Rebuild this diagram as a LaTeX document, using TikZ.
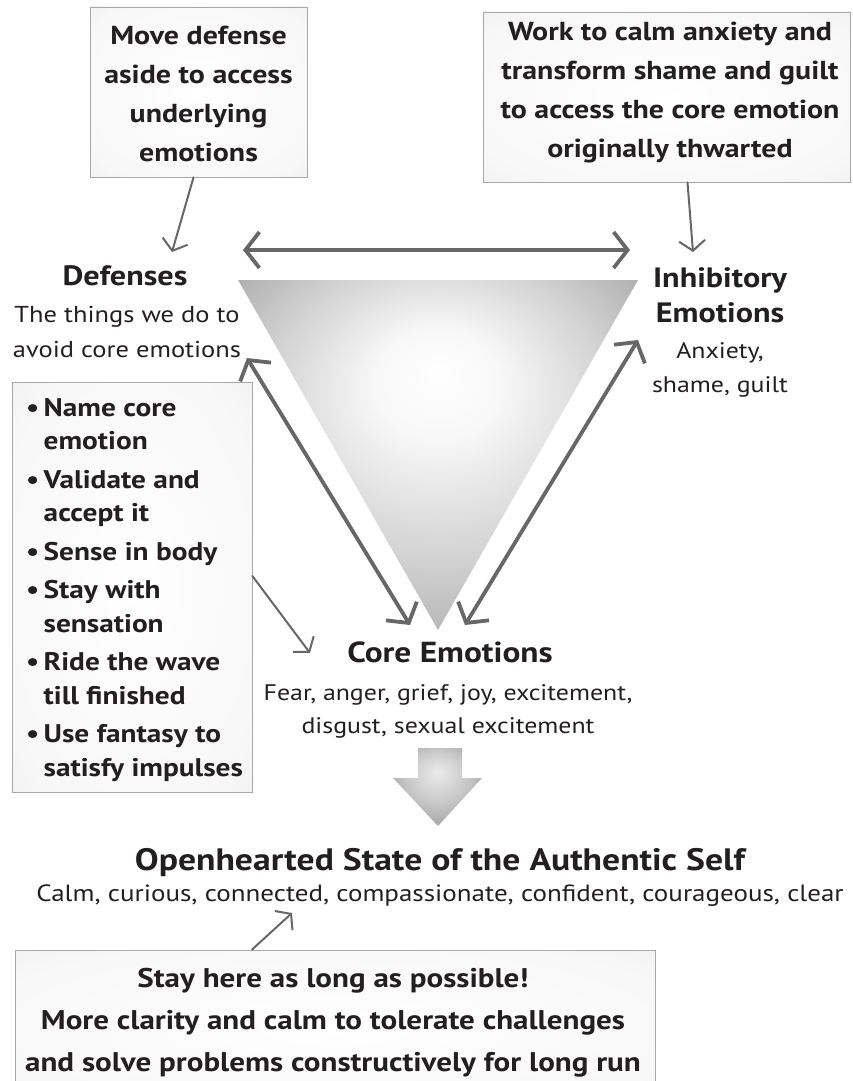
\documentclass[tikz,border=0pt]{standalone}
\usepackage{fontspec}
\setmainfont{PT Sans}[FakeStretch=1.15]
\usetikzlibrary{arrows.meta,calc}
\definecolor{ink}{HTML}{231F20}
\definecolor{arrowgray}{HTML}{676767}
\definecolor{boxedge}{HTML}{A8A8A8}
\pgfdeclareradialshading{trishade}{\pgfpoint{0bp}{12bp}}{color(0bp)=(white); color(8bp)=(white!97!black); color(22bp)=(white!82!black); color(35bp)=(white!66!black); color(50bp)=(white!56!black)}
\pgfdeclareradialshading{boxshade}{\pgfpoint{0bp}{0bp}}{color(0bp)=(white); color(30bp)=(white!97!black); color(44bp)=(white!92!black); color(50bp)=(white!80!black); color(70bp)=(white!70!black)}
\pgfdeclareradialshading{bigarrowshade}{\pgfpoint{0bp}{10bp}}{color(0bp)=(white!92!black); color(15bp)=(white!80!black); color(35bp)=(white!60!black); color(50bp)=(white!50!black)}
\tikzset{
  notebox/.style={draw=boxedge, line width=0.8pt, shading=boxshade, inner sep=0pt},
  boxtext/.style={font=\bfseries\fontsize{26}{39}\selectfont, text=ink, align=center, inner sep=0pt},
  ptr/.style={draw=arrowgray, line width=2pt, line cap=round, -{Straight Barb[length=10pt,width=26pt]}},
  dbl/.style={draw=arrowgray, line width=3.8pt, {Straight Barb[length=14pt,width=36pt]}-{Straight Barb[length=14pt,width=36pt]}},
  headtxt/.style={font=\bfseries\fontsize{28}{35}\selectfont, text=ink, align=center, inner sep=0pt},
  subtxt/.style={font=\fontsize{23}{35}\selectfont, text=ink, align=center, inner sep=0pt},
}
\begin{document}
\begin{tikzpicture}[x=1pt,y=-1pt]
\useasboundingbox (0,0) rectangle (852,1081);

% top boxes
\node[notebox, minimum width=217pt, minimum height=170pt] (tl) at (198.5,92) {};
\node[boxtext] (tltext) at (198.5,94) {Move defense\\aside to access\\underlying\\emotions};
\node[notebox, minimum width=367pt, minimum height=170pt] (tr) at (666.5,97) {};
\node[boxtext] (trtext) at (670,93) {Work to calm anxiety and\\transform shame and guilt\\to access the core emotion\\originally thwarted};

% triangle
\coordinate (tA) at (238,280);
\coordinate (tB) at (638,280);
\coordinate (tC) at (438,630);
\shade[shading=trishade] (tA) -- (tB) -- (tC) -- cycle;

% corner labels (base anchor of a multi-line node = last line)
\node[headtxt, anchor=base] (def) at (125,285) {Defenses};
\node[subtxt, anchor=base] (defsub) at (127,357) {The things we do to\\avoid core emotions};
\node[headtxt, anchor=base] (inh) at (720,322) {Inhibitory\\Emotions};
\node[subtxt, font=\fontsize{22.5}{34}\selectfont, anchor=base] (inhsub) at (720,392) {Anxiety,\\shame, guilt};
\node[headtxt, font=\bfseries\fontsize{29}{35}\selectfont, anchor=base] (core) at (450,662) {Core Emotions};
\node[subtxt, font=\fontsize{22.5}{33}\selectfont, anchor=base] (coresub) at (448,733) {Fear, anger, grief, joy, excitement,\\disgust, sexual excitement};

% bullet box
\node[notebox, minimum width=240pt, minimum height=410pt] (bl) at (132,587) {};
\node[font=\bfseries\fontsize{25.5}{33.5}\selectfont, text=ink, align=left, inner sep=0pt, anchor=north west] (bltext) at (26,398)
 {•\,Name core\\\phantom{•\,}emotion\\[5pt]
  •\,Validate and\\\phantom{•\,}accept it\\[5pt]
  •\,Sense in body\\[5pt]
  •\,Stay with\\\phantom{•\,}sensation\\[5pt]
  •\,Ride the wave\\\phantom{•\,}till finished\\[5pt]
  •\,Use fantasy to\\\phantom{•\,}satisfy impulses};

% big down arrow
\shade[shading=bigarrowshade] (418,748) -- (462,748) -- (462,778) -- (482,778) -- (438,826) -- (393,778) -- (418,778) -- cycle;

% openhearted
\node[inner sep=0pt, text=ink, anchor=base] (open) at (440,870) {\bfseries\fontsize{31}{36}\selectfont Openhearted State of the Authentic Self};
\node[inner sep=0pt, text=ink, anchor=base] (calm) at (440,901) {\fontsize{23.5}{30}\selectfont Calm, curious, connected, compassionate, confident, courageous, clear};

% bottom box
\node[notebox, minimum width=640pt, minimum height=156pt] (bt) at (335,1028) {};
\node[inner sep=0pt, text=ink, align=center] (bttext) at (333,1021) {\bfseries\fontsize{27}{42}\selectfont\begin{tabular}{@{}c@{}}Stay here as long as possible!\\More clarity and calm to tolerate challenges\\and solve problems constructively for long run\end{tabular}};

% arrows
\coordinate (defTip) at (172,252);
\coordinate (inhTip) at (693,252);
\coordinate (hL) at (243,250);
\coordinate (hR) at (630,250);
\coordinate (lU) at (247,358);
\coordinate (lD) at (410,625);
\coordinate (rD) at (465,625);
\coordinate (rU) at (638,340);
\coordinate (coreTip) at (310,653);
\coordinate (calmTip) at (292,913);

\draw[ptr] ([xshift=-5pt]tl.south) -- (defTip);
\draw[ptr] ([xshift=21pt]tr.south) -- (inhTip);
\draw[dbl] (hL) -- (hR);
\draw[dbl] (lU) -- (lD);
\draw[dbl] (rD) -- (rU);
\draw[ptr] ([yshift=11pt]bl.east) -- (coreTip);
\draw[ptr] ([xshift=-83pt]bt.north) -- (calmTip);
\end{tikzpicture}
\end{document}
